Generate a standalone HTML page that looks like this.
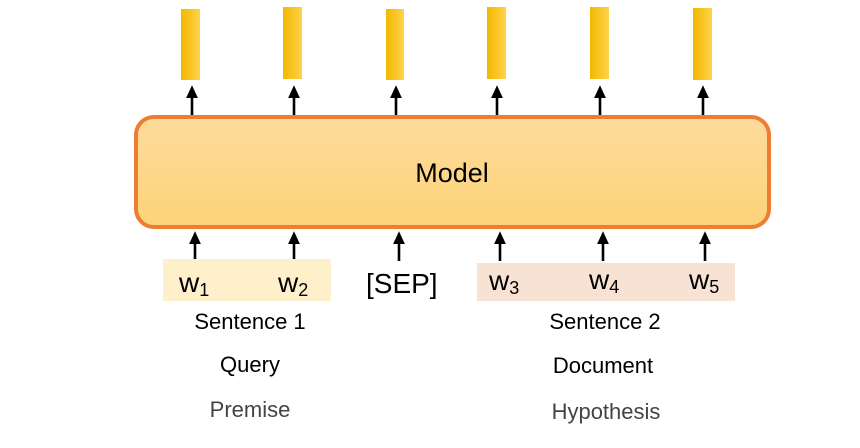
<!DOCTYPE html>
<html><head><style>
html,body{margin:0;padding:0;background:#fff;}
svg text{font-family:"Liberation Sans",sans-serif;}
</style></head><body>
<svg width="860" height="443" viewBox="0 0 860 443" xmlns="http://www.w3.org/2000/svg">
<defs>
<linearGradient id="bar" x1="0" x2="1"><stop offset="0" stop-color="#F2B800"/><stop offset="1" stop-color="#FFD24A"/></linearGradient>
<linearGradient id="box" x1="0" y1="0" x2="0" y2="1"><stop offset="0" stop-color="#FDDB9C"/><stop offset="1" stop-color="#FDD378"/></linearGradient>
<marker id="ah" markerWidth="5" markerHeight="4.6" refX="2" refY="2.3" orient="auto" markerUnits="strokeWidth"><path d="M0,0 L5,2.3 L0,4.6 z" fill="#000"/></marker>
</defs>
<g fill="url(#bar)">
<rect x="181" y="9" width="19" height="71"/>
<rect x="283" y="7" width="19" height="72"/>
<rect x="386" y="9" width="18" height="71"/>
<rect x="487" y="7" width="19" height="72"/>
<rect x="590" y="7" width="19" height="72"/>
<rect x="693" y="8" width="19" height="72"/>
</g>
<g stroke="#000" stroke-width="2.6" marker-end="url(#ah)">
<line x1="192" y1="115" x2="192" y2="93"/>
<line x1="294" y1="115" x2="294" y2="93"/>
<line x1="396" y1="115" x2="396" y2="93"/>
<line x1="497" y1="115" x2="497" y2="93"/>
<line x1="600" y1="115" x2="600" y2="93"/>
<line x1="703" y1="115" x2="703" y2="93"/>
<line x1="195" y1="261" x2="195" y2="239"/>
<line x1="294" y1="261" x2="294" y2="239"/>
<line x1="399" y1="261" x2="399" y2="239"/>
<line x1="500" y1="261" x2="500" y2="239"/>
<line x1="603" y1="261" x2="603" y2="239"/>
<line x1="705" y1="261" x2="705" y2="239"/>
</g>
<rect x="136" y="117" width="633" height="110" rx="18" fill="url(#box)" stroke="#ED7D31" stroke-width="4"/>
<text x="452" y="182" font-size="27" text-anchor="middle">Model</text>
<rect x="163" y="259" width="168" height="42" fill="#FFF0CC"/>
<rect x="477" y="263" width="258" height="38" fill="#F8E2D4"/>
<g font-size="28">
<text x="179" y="292">w<tspan font-size="18" dy="4">1</tspan></text>
<text x="278" y="292">w<tspan font-size="18" dy="4">2</tspan></text>
<text x="366" y="293">[SEP]</text>
<text x="489" y="290">w<tspan font-size="18" dy="4">3</tspan></text>
<text x="589" y="289">w<tspan font-size="18" dy="4">4</tspan></text>
<text x="689" y="289">w<tspan font-size="18" dy="4">5</tspan></text>
</g>
<g font-size="22" text-anchor="middle">
<text x="250" y="329">Sentence 1</text>
<text x="250" y="372">Query</text>
<text x="250" y="417" fill="#444">Premise</text>
<text x="605" y="329">Sentence  2</text>
<text x="603" y="373">Document</text>
<text x="606" y="419" fill="#444">Hypothesis</text>
</g>
</svg>
</body></html>
